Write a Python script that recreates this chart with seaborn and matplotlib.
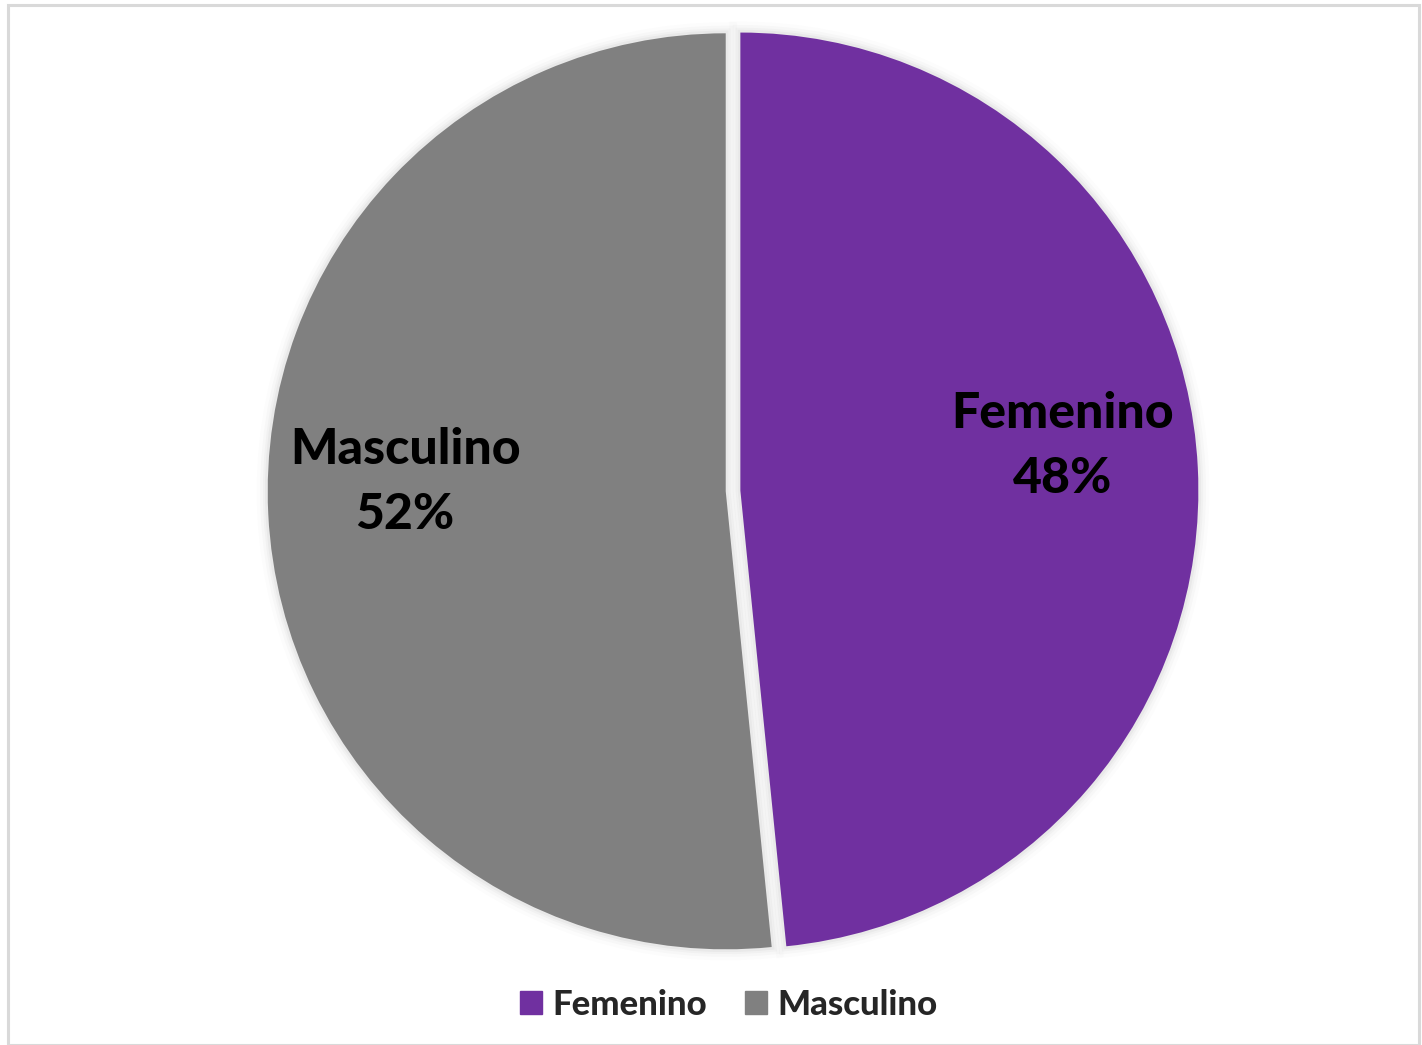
import numpy as np
import matplotlib
matplotlib.use("Agg")
import matplotlib.pyplot as plt
import seaborn as sns
from matplotlib.patches import Rectangle

# Data
categories = ["Femenino", "Masculino"]
shares = [48.4, 51.6]
colors = ["#7030A0", "#808080"]

sns.set_theme(style="white")
plt.rcParams["font.family"] = ["Lato", "DejaVu Sans"]

fig = plt.figure(figsize=(14.22, 10.45), dpi=100)
fig.patches.append(Rectangle((8 / 1422, 0.0), 1411 / 1422, 1 - 5 / 1045,
                             transform=fig.transFigure, fill=False,
                             edgecolor="#D9D9D9", linewidth=2.2))

ax = fig.add_axes([0.1773, 0.0700, 0.6764, 0.9204])
explode = [0.016, 0.016]

# soft shadow
for lw, a in [(16, 0.012), (11, 0.018), (7, 0.025), (4, 0.03)]:
    ax.pie(shares, startangle=90, counterclock=False, explode=explode,
           colors=["none", "none"],
           wedgeprops=dict(edgecolor=(0, 0, 0, a), linewidth=lw))

wedges, _ = ax.pie(shares, startangle=90, counterclock=False, explode=explode,
                   colors=colors, wedgeprops=dict(edgecolor="none"))
ax.set_xlim(-1.05, 1.05)
ax.set_ylim(-1.05, 1.05)
ax.set_aspect("equal")
ax.axis("off")

# labels, placed inside each slice (best fit style)
label_shift = [5.0, -4.5]
label_dist = [0.71, 0.70]
for w, cat, val, sh, d in zip(wedges, categories, shares, label_shift, label_dist):
    ang = np.deg2rad((w.theta1 + w.theta2) / 2 + sh)
    cx, cy = w.center
    ax.text(cx + d * np.cos(ang), cy + d * np.sin(ang), f"{cat}\n{round(val)}%",
            ha="center", va="center", fontsize=36, fontweight=900,
            color="black", linespacing=1.55)

handles = [Rectangle((0, 0), 1, 1, color=c) for c in colors]
fig.legend(handles, categories, loc="center", bbox_to_anchor=(729 / 1422, 1 - 1005 / 1045),
           ncol=2, frameon=False, handlelength=0.63, handleheight=0.63,
           handletextpad=0.3, columnspacing=1.1,
           prop=dict(size=25, weight=900))

fig.savefig("out.png", dpi=100, facecolor="white")
